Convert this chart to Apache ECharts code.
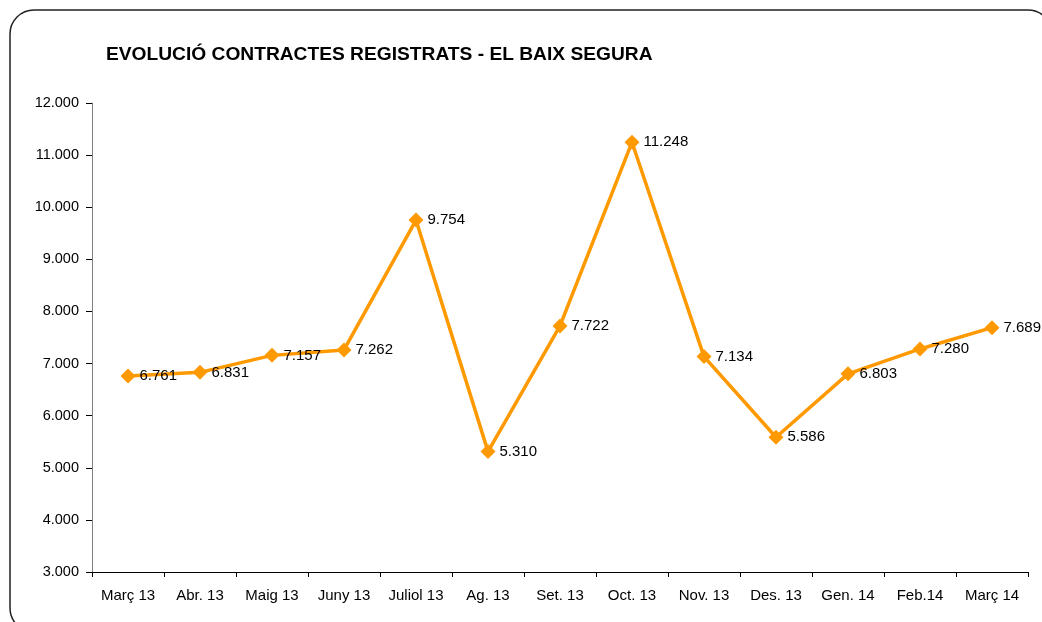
<!DOCTYPE html>
<html>
<head>
<meta charset="utf-8">
<script src="https://cdn.jsdelivr.net/npm/echarts@6/dist/echarts.min.js"></script>
<style>
html,body{margin:0;padding:0;background:#fff;}
#chart{width:1042px;height:622px;}
</style>
</head>
<body>
<div id="chart"></div>
<script>
// Monthly registered contracts, El Baix Segura
const months = ['Març 13','Abr. 13','Maig 13','Juny 13','Juliol 13','Ag. 13','Set. 13','Oct. 13','Nov. 13','Des. 13','Gen. 14','Feb.14','Març 14'];
const contracts = [6761, 6831, 7157, 7262, 9754, 5310, 7722, 11248, 7134, 5586, 6803, 7280, 7689];
const titleText = 'EVOLUCIÓ CONTRACTES REGISTRATS - EL BAIX SEGURA';

const fmt = v => {
  const s = String(Math.round(v));
  return s.replace(/\B(?=(\d{3})+(?!\d))/g, '.');
};

const FONT = 'Liberation Sans, Arial, sans-serif';
const chart = echarts.init(document.getElementById('chart'), null, {renderer: 'canvas'});
chart.setOption({
  backgroundColor: '#fff',
  animation: false,
  graphic: [{
    type: 'rect',
    shape: {x: 10, y: 10, width: 1042, height: 622, r: 24},
    style: {fill: 'none', stroke: '#222', lineWidth: 1.5},
    silent: true
  }],
  title: {
    text: titleText,
    left: 101, top: 40,
    textStyle: {fontFamily: FONT, fontSize: 19.2, fontWeight: 'bold', color: '#000'}
  },
  grid: {left: 92, right: 14, top: 103, bottom: 50},
  xAxis: {
    type: 'category',
    data: months,
    boundaryGap: true,
    axisLine: {lineStyle: {color: '#000', width: 1}},
    axisTick: {show: true, length: 5, lineStyle: {color: '#000'}},
    axisLabel: {fontFamily: FONT, fontSize: 15, color: '#000', margin: 16, interval: 0},
    splitLine: {show: false}
  },
  yAxis: {
    type: 'value',
    min: 3000, max: 12000, interval: 1000,
    axisLine: {show: true, lineStyle: {color: '#808080', width: 1}},
    axisTick: {show: true, length: 6, lineStyle: {color: '#000'}},
    axisLabel: {fontFamily: FONT, fontSize: 14.5, color: '#000', margin: 13, formatter: fmt},
    splitLine: {show: false}
  },
  series: [{
    type: 'line',
    data: contracts,
    lineStyle: {color: '#FF9900', width: 3.5},
    itemStyle: {color: '#FF9900'},
    symbol: 'diamond',
    symbolSize: 15,
    label: {
      show: true, position: 'right', distance: 4,
      fontFamily: FONT, fontSize: 15, color: '#000',
      formatter: p => fmt(p.value)
    }
  }]
});
</script>
</body>
</html>
